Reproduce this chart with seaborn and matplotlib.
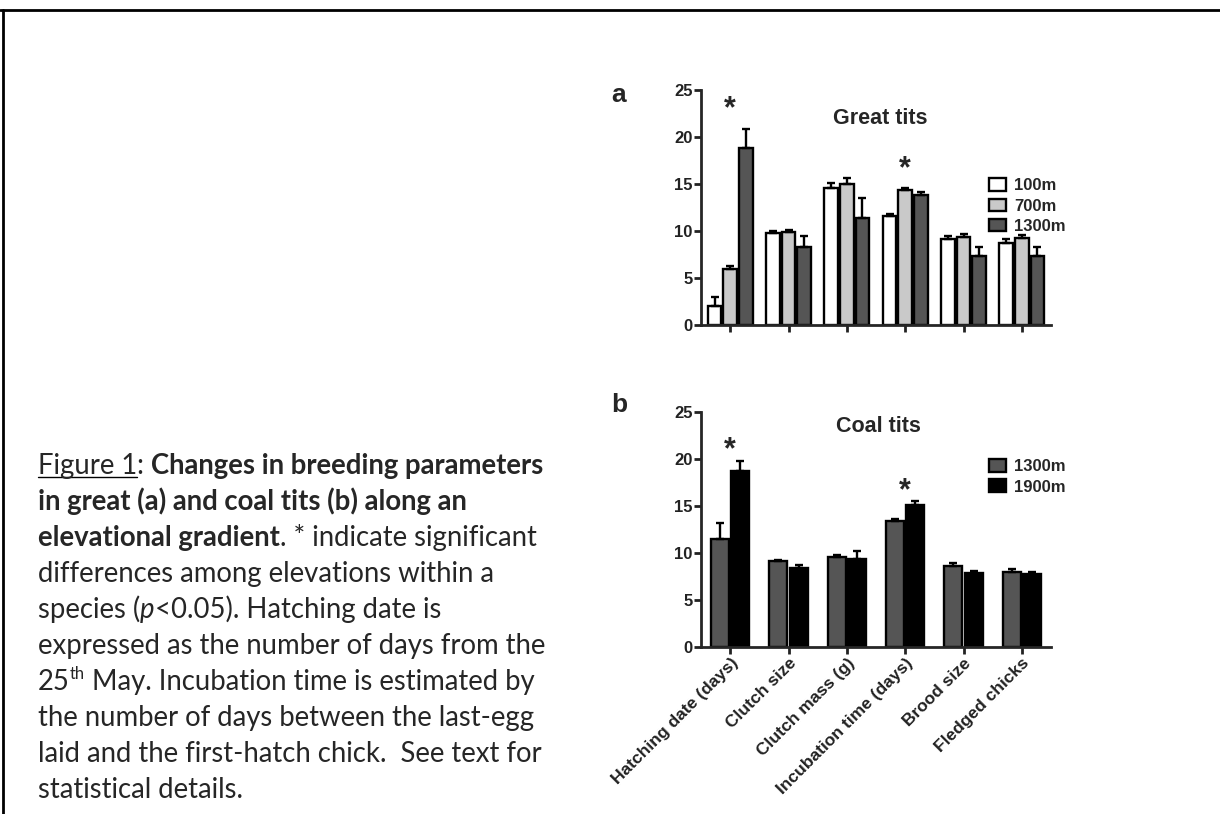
import numpy as np
import pandas as pd
import matplotlib
matplotlib.use('Agg')
import matplotlib.pyplot as plt
from matplotlib.lines import Line2D
import seaborn as sns

# categories on the x axis
categories = ['Hatching date (days)', 'Clutch size', 'Clutch mass (g)',
              'Incubation time (days)', 'Brood size', 'Fledged chicks']

# panel a: great tits
great_levels = ['100m', '700m', '1300m']
great_100 = [2.0, 9.8, 14.6, 11.6, 9.2, 8.7]
great_700 = [6.0, 9.9, 15.0, 14.4, 9.4, 9.3]
great_1300 = [18.8, 8.3, 11.4, 13.8, 7.3, 7.3]
great_100_err = [1.0, 0.2, 0.5, 0.2, 0.3, 0.4]
great_700_err = [0.3, 0.2, 0.6, 0.2, 0.3, 0.3]
great_1300_err = [2.1, 1.2, 2.1, 0.4, 1.0, 1.0]

# panel b: coal tits
coal_levels = ['1300m', '1900m']
coal_1300 = [11.5, 9.1, 9.6, 13.4, 8.6, 8.0]
coal_1900 = [18.7, 8.4, 9.4, 15.1, 7.9, 7.8]
coal_1300_err = [1.7, 0.2, 0.2, 0.2, 0.3, 0.3]
coal_1900_err = [1.1, 0.3, 0.8, 0.4, 0.2, 0.2]

# significant differences
signif = ['Hatching date (days)', 'Incubation time (days)']

W, H = 1220, 814


def long_df(levels, values):
    rows = []
    for lev, vals in zip(levels, values):
        for c, v in zip(categories, vals):
            rows.append({'category': c, 'elevation': lev, 'value': v})
    return pd.DataFrame(rows)


sns.set_style('ticks')
plt.rcParams['font.family'] = ['Liberation Sans', 'DejaVu Sans']

fig = plt.figure(figsize=(W / 100, H / 100), dpi=100)
ax1 = fig.add_axes([701 / W, 1 - 325 / H, 350 / W, 235 / H])
ax2 = fig.add_axes([701 / W, 1 - 647 / H, 350 / W, 235 / H])

panels = [
    (ax1, great_levels, [great_100, great_700, great_1300],
     [great_100_err, great_700_err, great_1300_err],
     ['#ffffff', '#c9c9c9', '#555555'], 0.8, 2.0),
    (ax2, coal_levels, [coal_1300, coal_1900],
     [coal_1300_err, coal_1900_err],
     ['#555555', '#000000'], 0.7, 1.1),
]

for ax, levels, values, errs, colors, width, star_off in panels:
    df = long_df(levels, values)
    sns.barplot(data=df, x='category', y='value', hue='elevation',
                order=categories, hue_order=levels, palette=colors,
                edgecolor='black', linewidth=1.7, width=width, gap=0.12,
                errorbar=None, ax=ax)
    tops = np.zeros(len(categories))
    for cont, e in zip(ax.containers, errs):
        xs = [b.get_x() + b.get_width() / 2 for b in cont]
        hs = np.array([b.get_height() for b in cont])
        ax.errorbar(xs, hs, yerr=[np.zeros(len(e)), e], fmt='none',
                    ecolor='black', elinewidth=1.7, capsize=3, capthick=1.7,
                    zorder=3)
        tops = np.maximum(tops, hs + np.array(e))
    for c in signif:
        i = categories.index(c)
        ax.text(i, tops[i] + star_off, '*', ha='center', va='center',
                fontsize=22, fontweight='bold')
    ax.set_ylim(0, 25)
    ax.set_yticks([0, 5, 10, 15, 20, 25])
    ax.set_xlim(-0.5, 5.5)
    ax.set_xlabel('')
    ax.set_ylabel('')
    sns.despine(ax=ax)
    for s in ['left', 'bottom']:
        ax.spines[s].set_linewidth(2)
    ax.tick_params(direction='out', length=5, width=2, labelsize=12,
                   colors='#222222', pad=1)
    for lab in ax.get_yticklabels():
        lab.set_fontweight('bold')

ax1.set_xticklabels([])
ax2.set_xticklabels(categories, rotation=45, ha='right',
                    rotation_mode='anchor', fontweight='bold', fontsize=12.5)

legend_kw = dict(frameon=False, title=None, borderpad=0, handlelength=1.0,
                 handleheight=0.8, handletextpad=0.5, labelspacing=0.3,
                 prop={'size': 12, 'weight': 'bold'},
                 bbox_transform=fig.transFigure)
sns.move_legend(ax1, 'upper left', bbox_to_anchor=(981 / W, 1 - 170 / H),
                **legend_kw)
sns.move_legend(ax2, 'upper left', bbox_to_anchor=(981 / W, 1 - 451 / H),
                **legend_kw)

fig.text(880 / W, 1 - 118 / H, 'Great tits', ha='center', va='center',
         fontsize=15.5, fontweight='bold')
fig.text(878 / W, 1 - 426 / H, 'Coal tits', ha='center', va='center',
         fontsize=15.5, fontweight='bold')
fig.text(611 / W, 1 - 95 / H, 'a', ha='left', va='center', fontsize=19,
         fontweight='bold')
fig.text(611 / W, 1 - 405 / H, 'b', ha='left', va='center', fontsize=19,
         fontweight='bold')

# page border (top and left)
fig.add_artist(Line2D([0, 1], [1 - 10 / H] * 2, transform=fig.transFigure,
                      color='black', lw=2))
fig.add_artist(Line2D([2.5 / W] * 2, [0, 1 - 10 / H],
                      transform=fig.transFigure, color='black', lw=2))

# caption, drawn run by run
cap_font = ['Lato', 'DejaVu Sans']
cap_size = 19.8
caption = [
    [('Figure 1', 'u'), (': ', 'n'), ('Changes in breeding parameters', 'b')],
    [('in great (a) and coal tits (b) along an', 'b')],
    [('elevational gradient', 'b'), ('. * indicate significant', 'n')],
    [('differences among elevations within a', 'n')],
    [('species (', 'n'), ('p', 'i'), ('<0.05). Hatching date is', 'n')],
    [('expressed as the number of days from the', 'n')],
    [('25', 'n'), ('th', 's'), (' May. Incubation time is estimated by', 'n')],
    [('the number of days between the last-egg', 'n')],
    [('laid and the first-hatch chick.  See text for', 'n')],
    [('statistical details.', 'n')],
]

renderer = fig.canvas.get_renderer()
x0 = 38
y0 = 474
for k, line in enumerate(caption):
    x = x0
    yb = y0 + k * 36
    for txt, st in line:
        kw = dict(fontsize=cap_size, family=cap_font, va='baseline',
                  ha='left', transform=None)
        yy = yb
        if st == 'b':
            kw['fontweight'] = 'bold'
        elif st == 'i':
            kw['fontstyle'] = 'italic'
        elif st == 's':
            kw['fontsize'] = cap_size * 0.6
            yy = yb - 11
        t = fig.text(x, H - yy, txt, **kw)
        ext = t.get_window_extent(renderer)
        if st == 'u':
            fig.add_artist(Line2D([x, x + ext.width], [H - yb - 3] * 2,
                                  transform=None, color='black', lw=1))
        x += ext.width

fig.savefig('out.png', dpi=100)
